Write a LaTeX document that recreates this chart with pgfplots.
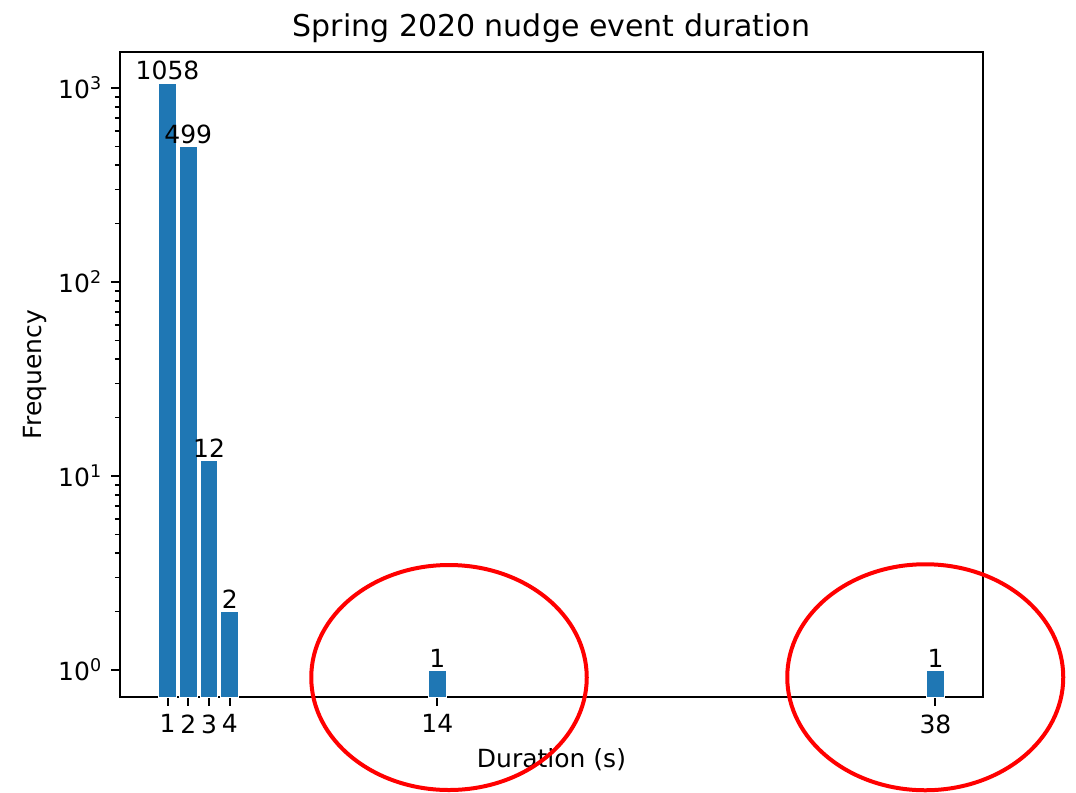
\documentclass[border=0pt]{standalone}
\usepackage{pgfplots}
\pgfplotsset{compat=1.18}
\usepackage{fontspec}
\setmainfont{DejaVu Sans}
\definecolor{mplblue}{HTML}{1F77B4}
\begin{document}
\begin{tikzpicture}
\begin{axis}[
  at={(0,0)}, anchor=south west,
  scale only axis,
  width=345.2pt, height=258pt,
  ymode=log,
  log origin=infty,
  xmin=-1.29, xmax=40.29,
  ymin=0.726, ymax=1534,
  xtick={1,2,3,4,14,38},
  xticklabels={1,2,3,4,14,38},
  ytick={1,10,100,1000},
  yticklabels={10\textsuperscript{0},10\textsuperscript{1},10\textsuperscript{2},10\textsuperscript{3}},
  minor xtick={},
  tick align=outside,
  xtick pos=bottom, ytick pos=left,
  major tick length=3.5pt, minor tick length=2pt,
  every tick/.style={black, line width=0.8pt},
  every minor tick/.style={black, line width=0.6pt},
  axis line style={line width=0.8pt},
  tick label style={font=\fontsize{10}{12}\selectfont},
  /pgf/number format/assume math mode=true,
  title={Spring 2020 nudge event duration},
  every axis title/.style={at={(axis description cs:0.5,1.037)}, anchor=center, font=\fontsize{12}{14}\selectfont},
  xlabel={Duration (s)},
  ylabel={Frequency},
  every axis x label/.style={at={(axis description cs:0.5,-0.0977)}, anchor=center, font=\fontsize{10}{12}\selectfont},
  every axis y label/.style={at={(axis description cs:-0.0985,0.5)}, rotate=90, anchor=center, font=\fontsize{10}{12}\selectfont},
  ybar, bar width=0.85,
  clip=false,
  point meta=explicit symbolic,
  nodes near coords,
  every node near coord/.append style={font=\fontsize{10}{12}\selectfont, inner sep=1pt, anchor=south},
]
\addplot[fill=mplblue, draw=white, line width=0.4pt] coordinates {
  (1,1058) [1058]
  (2,499) [499]
  (3,12) [12]
  (4,2) [2]
  (14,1) [1]
  (38,1) [1]
};
\end{axis}
\draw[red, line width=1.6pt] (131.6pt,7.8pt) ellipse [x radius=55.1pt, y radius=45pt];
\draw[red, line width=1.6pt] (322.1pt,7.9pt) ellipse [x radius=55.2pt, y radius=45.2pt];
\pgfresetboundingbox
\path[use as bounding box] (-48pt,-38pt) rectangle (382.4pt,278.8pt);
\end{tikzpicture}
\end{document}
